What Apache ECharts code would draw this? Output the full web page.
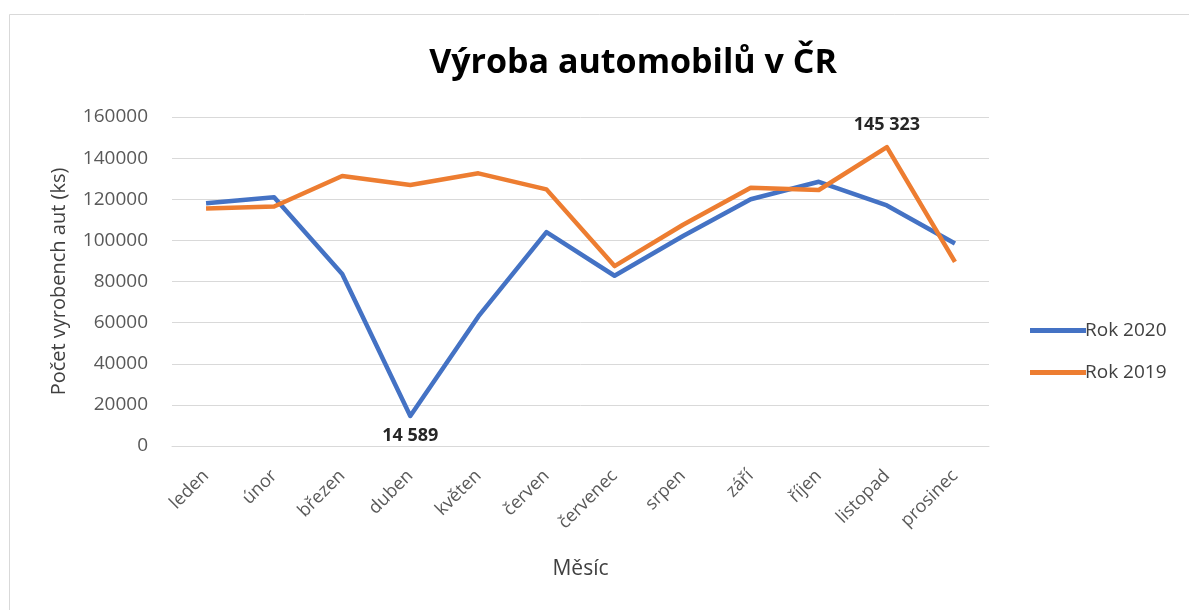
<!DOCTYPE html>
<html>
<head>
<meta charset="utf-8">
<script src="https://cdn.jsdelivr.net/npm/echarts@6/dist/echarts.min.js"></script>
<style>
  html, body { margin: 0; padding: 0; background: #fff; }
  #chart { width: 1189px; height: 610px; }
</style>
</head>
<body>
<div id="chart"></div>
<script>
// měsíce
const months = ['leden', 'únor', 'březen', 'duben', 'květen', 'červen', 'červenec', 'srpen', 'září', 'říjen', 'listopad', 'prosinec'];
// výroba 2020 / 2019 (ks)
const rok2020 = [118000, 121000, 83600, 14589, 63000, 104000, 82800, 102000, 120000, 128500, 117000, 98500];
const rok2019 = [115500, 116500, 131300, 126900, 132600, 124800, 87500, 107500, 125600, 124500, 145323, 89500];
const yTicks = [0, 20000, 40000, 60000, 80000, 100000, 120000, 140000, 160000];

const font = '"Open Sans", "Noto Sans", sans-serif';
const fmt = v => String(v).replace(/\B(?=(\d{3})+(?!\d))/g, ' ');

// popisek jen u vybraného bodu
const withLabel = (arr, idx, pos, dist) => arr.map((v, i) => i === idx ? {
  value: v,
  label: {
    show: true,
    position: pos,
    distance: dist,
    fontFamily: font,
    fontWeight: 'bold',
    fontSize: 18,
    color: '#262626',
    formatter: p => fmt(p.value)
  }
} : v);

let chart = echarts.init(document.getElementById('chart'));
let option = {
  backgroundColor: '#fff',
  animation: false,
  title: {
    text: 'Výroba automobilů v ČR',
    left: 628,
    textAlign: 'center',
    top: 41,
    textStyle: {
      fontFamily: font,
      fontWeight: 'bold',
      fontSize: 34,
      color: '#000'
    }
  },
  // rámeček grafu
  graphic: [{
    type: 'rect',
    shape: { x: 9.5, y: 14.5, width: 1200, height: 620 },
    style: { fill: 'none', stroke: '#d9d9d9', lineWidth: 1 },
    silent: true
  }],
  legend: {
    orient: 'vertical',
    left: 1025,
    top: 316,
    itemWidth: 56,
    itemHeight: 5,
    itemGap: 23,
    icon: 'rect',
    textStyle: {
      fontFamily: font,
      fontSize: 19,
      color: '#404040',
      padding: [0, 0, 0, -6]
    },
    data: ['Rok 2020', 'Rok 2019']
  },
  grid: {
    left: 172,
    right: 200,
    top: 117,
    bottom: 164
  },
  xAxis: {
    type: 'category',
    data: months,
    boundaryGap: true,
    name: 'Měsíc',
    nameLocation: 'middle',
    nameGap: 113,
    nameTextStyle: {
      fontFamily: font,
      fontSize: 21,
      color: '#404040'
    },
    axisTick: { show: false },
    axisLine: { lineStyle: { color: '#d9d9d9', width: 1 } },
    axisLabel: {
      rotate: 45,
      margin: 27,
      fontFamily: font,
      fontSize: 18,
      color: '#595959',
      interval: 0
    }
  },
  yAxis: {
    type: 'value',
    min: 0,
    max: 160000,
    interval: 20000,
    name: 'Počet vyrobench aut (ks)',
    nameLocation: 'middle',
    nameGap: 103,
    nameTextStyle: {
      fontFamily: font,
      fontSize: 20,
      color: '#404040'
    },
    axisLine: { show: false },
    axisTick: { show: false },
    axisLabel: {
      margin: 24,
      fontFamily: font,
      fontSize: 19,
      color: '#595959',
      formatter: v => yTicks.includes(v) ? String(v) : ''
    },
    splitLine: { lineStyle: { color: '#d9d9d9', width: 1 } }
  },
  series: [
    {
      name: 'Rok 2020',
      type: 'line',
      data: withLabel(rok2020, 3, 'bottom', 11),
      symbol: 'circle',
      symbolSize: 0,
      color: '#4472c4',
      lineStyle: { color: '#4472c4', width: 4.5, join: 'round' }
    },
    {
      name: 'Rok 2019',
      type: 'line',
      data: withLabel(rok2019, 10, 'top', 13),
      symbol: 'circle',
      symbolSize: 0,
      color: '#ed7d31',
      lineStyle: { color: '#ed7d31', width: 4.5, join: 'round' }
    }
  ]
};
chart.setOption(option);
</script>
</body>
</html>
